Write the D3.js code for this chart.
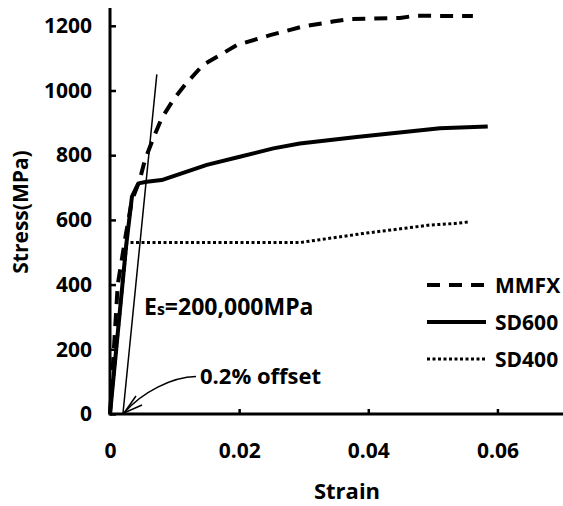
<!DOCTYPE html>
<html lang="en">
<head>
    <meta charset="UTF-8">
    <title>Stress-strain curves</title>
    <script src="https://d3js.org/d3.v7.min.js"></script>
    <style>
        body { margin: 0; background: #fff; }
        text { font-family: "Open Sans", "Noto Sans", sans-serif; font-weight: bold; fill: #000; }
        .curve { fill: none; stroke: #000; }
    </style>
</head>
<body>
<svg width="563" height="506"></svg>
<script>
    // strain / stress (MPa)
    let mmfxStrain = [0, 0.0006, 0.0012, 0.0025, 0.0034, 0.0046, 0.0054, 0.0067, 0.0080, 0.0098, 0.0116, 0.0144, 0.0197, 0.0248, 0.0297, 0.0345, 0.0372, 0.0449, 0.0472, 0.0562];
    let mmfxStress = [0, 200, 400, 560, 661, 723, 785, 852, 914, 971, 1017, 1079, 1141, 1171, 1197, 1213, 1221, 1224, 1231, 1230];

    let sd600Strain = [0, 0.0025, 0.0034, 0.0044, 0.0057, 0.0080, 0.0150, 0.0201, 0.0253, 0.0294, 0.0382, 0.0430, 0.0511, 0.0585];
    let sd600Stress = [0, 520, 672, 713, 718, 723, 770, 795, 821, 836, 856, 866, 883, 889];

    let sd400Strain = [0, 0.0026, 0.0294, 0.0340, 0.0392, 0.0444, 0.0495, 0.0534, 0.0557];
    let sd400Stress = [0, 530, 530, 543, 558, 571, 584, 589, 594];

    // Es = 200,000 MPa line from the 0.2% offset
    let elasticStrain = [0.002, 0.00725];
    let elasticStress = [0, 1050];

    let xTicks = [0, 0.02, 0.04, 0.06];
    let yTicks = [0, 200, 400, 600, 800, 1000, 1200];

    let seriesNames = ["MMFX", "SD600", "SD400"];

    let svg = d3.select("svg");

    let x = d3.scaleLinear().domain([0, 0.07]).range([110, 562]);
    let y = d3.scaleLinear().domain([0, 1255]).range([414, 8]);

    let line = d3.line().x(d => x(d[0])).y(d => y(d[1]));
    let pairs = (xs, ys) => xs.map((v, i) => [v, ys[i]]);

    let styles = {
        MMFX: {width: 4, dash: "13,9"},
        SD600: {width: 4, dash: null},
        SD400: {width: 3, dash: "3,2.5"}
    };
    let data = {
        MMFX: pairs(mmfxStrain, mmfxStress),
        SD600: pairs(sd600Strain, sd600Stress),
        SD400: pairs(sd400Strain, sd400Stress)
    };

    // curves
    svg.append("g").selectAll("path")
        .data(["SD400", "SD600", "MMFX"])
        .join("path")
        .attr("class", "curve")
        .attr("d", d => line(data[d]))
        .attr("stroke-width", d => styles[d].width)
        .attr("stroke-dasharray", d => styles[d].dash)
        .attr("stroke-linejoin", "round");

    svg.append("path")
        .attr("class", "curve")
        .attr("d", line(pairs(elasticStrain, elasticStress)))
        .attr("stroke-width", 1.5);

    // axes
    let xAxis = d3.axisBottom(x).tickValues(xTicks).tickSize(-5).tickFormat(d => d === 0 ? "0" : d3.format(".2f")(d)).tickPadding(29);
    let yAxis = d3.axisLeft(y).tickValues(yTicks).tickSize(-6).tickFormat(d3.format("d")).tickPadding(18);

    let gx = svg.append("g").attr("transform", "translate(0,414)").call(xAxis);
    let gy = svg.append("g").attr("transform", "translate(110,0)").call(yAxis);
    [gx, gy].forEach(g => {
        g.select(".domain").attr("stroke", "#000").attr("stroke-width", 3);
        g.selectAll(".tick line").attr("stroke", "#000").attr("stroke-width", 2.5);
        g.selectAll(".tick text").style("font-size", "21px");
    });
    gx.select(".domain").attr("d", "M110,0H563");
    gy.select(".domain").attr("d", "M0,8V415.5");

    svg.append("text").attr("x", 347).attr("y", 499).attr("text-anchor", "middle")
        .style("font-size", "22px").text("Strain");
    svg.append("text").attr("transform", "translate(28,212) rotate(-90)").attr("text-anchor", "middle")
        .style("font-size", "21px").text("Stress(MPa)");

    // annotations
    let es = svg.append("text").attr("x", 144).attr("y", 315).style("font-size", "23px");
    es.append("tspan").text("E");
    es.append("tspan").style("font-size", "16px").text("s");
    es.append("tspan").text("=200,000MPa");

    svg.append("path").attr("class", "curve").attr("stroke-width", 1.5)
        .attr("d", "M196,376.5 C172,377 142,392 124,413");
    svg.append("path").attr("class", "curve").attr("stroke-width", 1.5)
        .attr("d", "M136,396 L124,413 L142,405");
    svg.append("text").attr("x", 200).attr("y", 384).style("font-size", "22px").text("0.2% offset");

    // legend
    let legend = svg.append("g").selectAll("g")
        .data(seriesNames)
        .join("g")
        .attr("transform", (d, i) => `translate(0,${285 + i * 37})`);
    legend.append("line")
        .attr("x1", 427).attr("x2", 486)
        .attr("stroke", "#000")
        .attr("stroke-width", d => styles[d].width)
        .attr("stroke-dasharray", d => styles[d].dash);
    legend.append("text").attr("x", 495).attr("y", 7.5).style("font-size", "21px").text(d => d);
</script>
</body>
</html>
